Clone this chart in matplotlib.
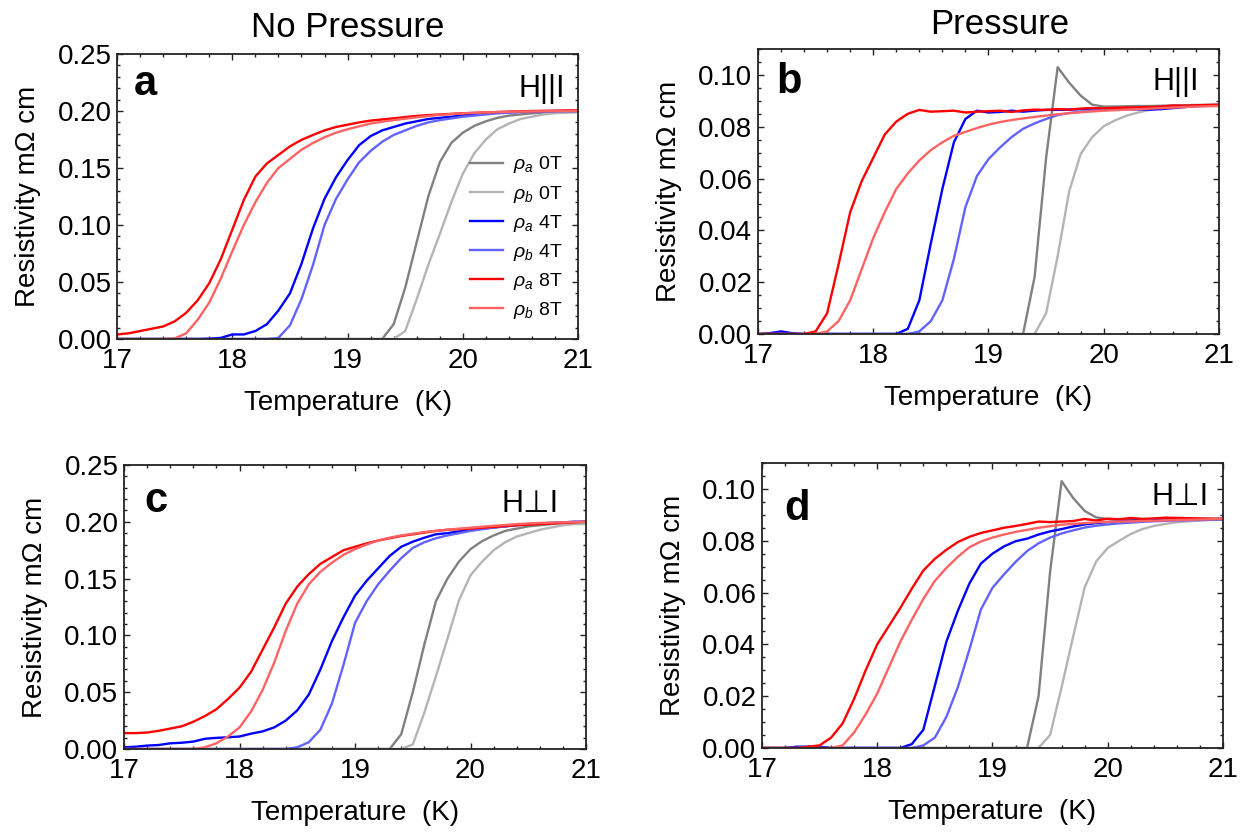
import numpy as np
import matplotlib
matplotlib.use("Agg")
import matplotlib.pyplot as plt
from matplotlib.ticker import MultipleLocator, FormatStrFormatter

plt.rcParams['font.family'] = ['Liberation Sans', 'DejaVu Sans']
plt.rcParams['mathtext.fontset'] = 'custom'
plt.rcParams['mathtext.rm'] = 'Liberation Sans'
plt.rcParams['mathtext.it'] = 'Liberation Sans:italic'

# temperature grid (K), 17.0 ... 21.0 in 0.1 K steps
temps = np.round(np.arange(170, 211) / 10.0, 1)

labels = [r'$\rho_a$ 0T', r'$\rho_b$ 0T', r'$\rho_a$ 4T',
          r'$\rho_b$ 4T', r'$\rho_a$ 8T', r'$\rho_b$ 8T']
colors = ['#808080', '#b4b4b4', '#0000ff', '#6262ff', '#ff0000', '#ff6262']

# ---- panel a: no pressure, H || I
a_ra0 = [0] * 24 + [0.013, 0.045, 0.085, 0.125, 0.155, 0.172, 0.181, 0.187, 0.191,
                    0.194, 0.196, 0.197, 0.198, 0.1985, 0.199, 0.1995, 0.2]
a_rb0 = [0] * 25 + [0.007, 0.035, 0.065, 0.092, 0.12, 0.145, 0.163, 0.175, 0.184,
                    0.189, 0.193, 0.195, 0.197, 0.198, 0.1985, 0.199]
a_ra4 = [0, 0, 0, 0, 0, 0, 0, 0, 0.0003, 0.001,
         0.004, 0.004, 0.007, 0.013, 0.025, 0.040, 0.066, 0.097, 0.123, 0.142,
         0.157, 0.170, 0.178, 0.183, 0.186, 0.189, 0.191, 0.193, 0.194, 0.195,
         0.196, 0.197, 0.198, 0.1985, 0.199, 0.1993, 0.1996, 0.1998, 0.2, 0.2, 0.2]
a_rb4 = [0] * 14 + [0.001, 0.012, 0.035, 0.065, 0.100, 0.123,
                    0.140, 0.155, 0.165, 0.173, 0.179, 0.183, 0.187, 0.190, 0.192, 0.1935,
                    0.195, 0.196, 0.197, 0.198, 0.1985, 0.199, 0.1993, 0.1996, 0.1998, 0.2, 0.2]
a_ra8 = [0.004, 0.005, 0.007, 0.009, 0.011, 0.0155, 0.023, 0.034, 0.049, 0.070,
         0.096, 0.122, 0.1425, 0.154, 0.1615, 0.169, 0.1747, 0.179, 0.183, 0.186,
         0.188, 0.190, 0.1916, 0.1926, 0.1936, 0.1947, 0.1957, 0.1964, 0.197, 0.1975,
         0.198, 0.1984, 0.1988, 0.1991, 0.1995, 0.1998, 0.2, 0.2002, 0.2003, 0.2005, 0.2006]
a_rb8 = [0, 0, 0, 0, 0, 0.0005, 0.005, 0.017, 0.032, 0.053,
         0.077, 0.100, 0.120, 0.137, 0.150, 0.158, 0.166, 0.172, 0.177, 0.181,
         0.184, 0.1866, 0.189, 0.1906, 0.192, 0.1933, 0.1945, 0.1956, 0.1966, 0.1973,
         0.198, 0.1984, 0.1988, 0.1991, 0.1993, 0.1995, 0.1997, 0.1998, 0.1999, 0.2, 0.2]

# ---- panel b: pressure, H || I
b_ra0 = [0] * 24 + [0.022, 0.068, 0.103, 0.097, 0.092, 0.0885, 0.0878, 0.0878, 0.0879,
                    0.088, 0.088, 0.0881, 0.0882, 0.0883, 0.0884, 0.0884, 0.0885]
b_rb0 = [0] * 25 + [0.008, 0.030, 0.055, 0.0695, 0.076, 0.0802, 0.0825, 0.0843, 0.0855,
                    0.0865, 0.0872, 0.0876, 0.0879, 0.0882, 0.0884, 0.0886]
b_ra4 = [0, 0.0003, 0.001, 0.0003, 0, 0, 0, 0, 0, 0,
         0, 0, 0, 0.002, 0.013, 0.035, 0.056, 0.074, 0.083, 0.0862,
         0.0855, 0.0857, 0.0862, 0.0858, 0.0862, 0.0865, 0.0865, 0.0866, 0.0868, 0.087,
         0.087, 0.0869, 0.0868, 0.0867, 0.0866, 0.0868, 0.0872, 0.0876, 0.088, 0.0882, 0.0883]
b_rb4 = [0] * 14 + [0.001, 0.005, 0.013, 0.029, 0.049, 0.061,
                    0.0675, 0.072, 0.076, 0.0792, 0.0813, 0.083, 0.0845, 0.0853, 0.0858, 0.0863,
                    0.0866, 0.0868, 0.087, 0.0872, 0.0873, 0.0875, 0.0876, 0.0878, 0.0879, 0.0881, 0.0882]
b_ra8 = [0, 0, 0, 0, 0, 0.001, 0.008, 0.027, 0.047, 0.059,
         0.068, 0.077, 0.082, 0.085, 0.0865, 0.0858, 0.086, 0.0862, 0.0855, 0.0858,
         0.086, 0.0862, 0.0857, 0.0863, 0.0866, 0.0865, 0.0868, 0.0866, 0.087, 0.0872,
         0.0871, 0.0873, 0.0874, 0.0875, 0.0876, 0.0878, 0.0882, 0.0881, 0.0883, 0.0884, 0.0885]
b_rb8 = [0, 0, 0, 0, 0, 0, 0.001, 0.005, 0.013, 0.025,
         0.037, 0.047, 0.056, 0.062, 0.067, 0.071, 0.074, 0.0765, 0.078, 0.0795,
         0.0808, 0.0818, 0.0826, 0.0832, 0.0838, 0.0843, 0.0848, 0.0852, 0.0856, 0.0859,
         0.0862, 0.0864, 0.0866, 0.0868, 0.087, 0.0872, 0.0874, 0.0876, 0.0878, 0.0879, 0.088]

# ---- panel c: no pressure, H perp I
c_ra0 = [0] * 24 + [0.013, 0.05, 0.092, 0.13, 0.15, 0.165, 0.176, 0.183, 0.188,
                    0.192, 0.194, 0.196, 0.197, 0.198, 0.199, 0.1995, 0.2]
c_rb0 = [0] * 25 + [0.004, 0.032, 0.064, 0.097, 0.131, 0.153, 0.165, 0.175, 0.182,
                    0.187, 0.19, 0.193, 0.195, 0.197, 0.198, 0.198]
c_ra4 = [0.0015, 0.002, 0.003, 0.0035, 0.005, 0.0055, 0.0065, 0.009, 0.0098, 0.0103,
         0.011, 0.0135, 0.0155, 0.019, 0.025, 0.034, 0.048, 0.070, 0.095, 0.116,
         0.135, 0.148, 0.159, 0.170, 0.178, 0.1825, 0.186, 0.189, 0.190, 0.1915,
         0.1925, 0.194, 0.195, 0.196, 0.1972, 0.198, 0.1985, 0.199, 0.1995, 0.2, 0.2]
c_rb4 = [0] * 15 + [0.0015, 0.006, 0.017, 0.04, 0.074,
                    0.111, 0.13, 0.145, 0.157, 0.168, 0.177, 0.182, 0.1855, 0.188, 0.19,
                    0.192, 0.1935, 0.195, 0.196, 0.197, 0.198, 0.1985, 0.199, 0.1995, 0.2, 0.2]
c_ra8 = [0.014, 0.014, 0.0145, 0.016, 0.018, 0.020, 0.024, 0.029, 0.035, 0.044,
         0.054, 0.068, 0.0875, 0.107, 0.128, 0.143, 0.154, 0.163, 0.169, 0.175,
         0.178, 0.181, 0.1835, 0.1855, 0.1875, 0.189, 0.1905, 0.192, 0.193, 0.1935,
         0.194, 0.1948, 0.1955, 0.1962, 0.197, 0.1975, 0.198, 0.1985, 0.199, 0.1995, 0.2]
c_rb8 = [0, 0, 0, 0, 0, 0, 0, 0.0015, 0.005, 0.011,
         0.019, 0.033, 0.052, 0.076, 0.104, 0.128, 0.145, 0.156, 0.164, 0.171,
         0.176, 0.180, 0.1835, 0.186, 0.188, 0.1895, 0.191, 0.192, 0.193, 0.194,
         0.1948, 0.1957, 0.1965, 0.1972, 0.198, 0.1985, 0.199, 0.1993, 0.1995, 0.1998, 0.2]

# ---- panel d: pressure, H perp I
d_ra0 = [0] * 24 + [0.02, 0.068, 0.103, 0.0965, 0.0915, 0.089, 0.0884, 0.0884, 0.0884,
                    0.0884, 0.0884, 0.0884, 0.0884, 0.0885, 0.0885, 0.0885, 0.0885]
d_rb0 = [0] * 25 + [0.005, 0.0235, 0.043, 0.062, 0.072, 0.0772, 0.080, 0.0826, 0.0845,
                    0.0857, 0.0865, 0.0871, 0.0875, 0.0878, 0.088, 0.0882]
d_ra4 = [0, 0, 0, 0.0005, 0.0005, 0.0005, 0, 0, 0, 0,
         0, 0, 0, 0.0015, 0.007, 0.024, 0.041, 0.053, 0.0635, 0.0712,
         0.075, 0.0778, 0.0798, 0.0808, 0.0824, 0.0836, 0.0845, 0.0855, 0.0863, 0.0868,
         0.0872, 0.0875, 0.0877, 0.0879, 0.088, 0.0881, 0.0882, 0.0882, 0.0883, 0.0883, 0.0883]
d_rb4 = [0] * 14 + [0.001, 0.004, 0.012, 0.0235, 0.038, 0.0535,
                    0.0618, 0.067, 0.0718, 0.076, 0.079, 0.0812, 0.0828, 0.084, 0.0851, 0.0858,
                    0.0863, 0.0867, 0.087, 0.0873, 0.0875, 0.0877, 0.0878, 0.0879, 0.088, 0.0881, 0.0882]
d_ra8 = [0, 0, 0, 0, 0.0005, 0.001, 0.004, 0.0095, 0.019, 0.030,
         0.040, 0.047, 0.054, 0.0615, 0.0685, 0.073, 0.0765, 0.0795, 0.0815, 0.083,
         0.084, 0.085, 0.0857, 0.0865, 0.0874, 0.0872, 0.0874, 0.0876, 0.0884, 0.0878,
         0.0885, 0.0882, 0.0888, 0.0884, 0.0886, 0.0889, 0.0888, 0.0887, 0.0886, 0.0885, 0.0885]
d_rb8 = [0, 0, 0, 0, 0, 0, 0, 0.001, 0.006, 0.013,
         0.021, 0.031, 0.041, 0.0495, 0.0575, 0.0645, 0.0695, 0.0738, 0.0775, 0.0797,
         0.0812, 0.0824, 0.0834, 0.0842, 0.085, 0.0856, 0.0862, 0.0865, 0.0868, 0.0871,
         0.0873, 0.0874, 0.0875, 0.0876, 0.0877, 0.0879, 0.088, 0.0881, 0.0882, 0.0883, 0.0884]

panels = [
    # rect, series, ymax, ymajor, yminor, letter, letter pos, field label, field pos
    ([0.0941, 0.594, 0.3706, 0.3413], [a_ra0, a_rb0, a_ra4, a_rb4, a_ra8, a_rb8],
     0.25, 0.05, 0.01, 'a', (0.037, 0.856), 'H||I', (0.972, 0.849)),
    ([0.6093, 0.600, 0.3706, 0.3413], [b_ra0, b_rb0, b_ra4, b_rb4, b_ra8, b_rb8],
     0.11, 0.02, 0.005, 'b', (0.039, 0.846), 'H||I', (0.956, 0.856)),
    ([0.0997, 0.103, 0.3714, 0.3401], [c_ra0, c_rb0, c_ra4, c_rb4, c_ra8, c_rb8],
     0.25, 0.05, 0.01, 'c', (0.043, 0.835), 'H⊥I', (0.94, 0.835)),
    ([0.6125, 0.1042, 0.3706, 0.3413], [d_ra0, d_rb0, d_ra4, d_rb4, d_ra8, d_rb8],
     0.11, 0.02, 0.005, 'd', (0.048, 0.80), 'H⊥I', (0.968, 0.853)),
]

fig = plt.figure(figsize=(12.44, 8.35), dpi=100)

axes = []
for rect, series, ymax, ymaj, ymin, letter, lpos, field, fpos in panels:
    ax = fig.add_axes(rect)
    for vals, lab, col in zip(series, labels, colors):
        ax.plot(temps, vals, color=col, lw=1.7, label=lab)
    ax.set_xlim(17, 21)
    ax.set_ylim(0, ymax)
    ax.xaxis.set_major_locator(MultipleLocator(1))
    ax.xaxis.set_minor_locator(MultipleLocator(0.2))
    ax.yaxis.set_major_locator(MultipleLocator(ymaj))
    ax.yaxis.set_minor_locator(MultipleLocator(ymin))
    ax.yaxis.set_major_formatter(FormatStrFormatter('%.2f'))
    ax.tick_params(which='both', direction='in', top=True, right=True,
                   labelsize=20, width=1.0, color='#222222')
    ax.tick_params(which='major', length=4.5, pad=4)
    ax.tick_params(axis='x', which='major', pad=6.5)
    ax.tick_params(which='minor', length=2.3)
    for sp in ax.spines.values():
        sp.set_linewidth(1.3)
        sp.set_color('#222222')
    ax.set_xlabel('Temperature  (K)', fontsize=20)
    ax.set_ylabel('Resistivity mΩ cm', fontsize=20)
    ax.xaxis.set_label_coords(0.5, -0.18)
    ax.yaxis.set_label_coords(-0.165, 0.5)
    ax.text(lpos[0], lpos[1], letter, transform=ax.transAxes, fontsize=30,
            fontweight='bold', ha='left', va='baseline')
    ax.text(fpos[0], fpos[1], field, transform=ax.transAxes, fontsize=22,
            ha='right', va='baseline', family=['Liberation Sans', 'DejaVu Sans'])
    axes.append(ax)

axes[0].legend(loc='upper left', bbox_to_anchor=(0.766, 0.648), frameon=False,
               fontsize=14, handlelength=1.7, handletextpad=0.5,
               labelspacing=0.42, borderpad=0, borderaxespad=0)

fig.text(348 / 1244, 1 - 37 / 835, 'No Pressure', fontsize=25, ha='center', va='baseline')
fig.text(1000 / 1244, 1 - 34 / 835, 'Pressure', fontsize=25, ha='center', va='baseline')

fig.savefig('out.png', dpi=100)
